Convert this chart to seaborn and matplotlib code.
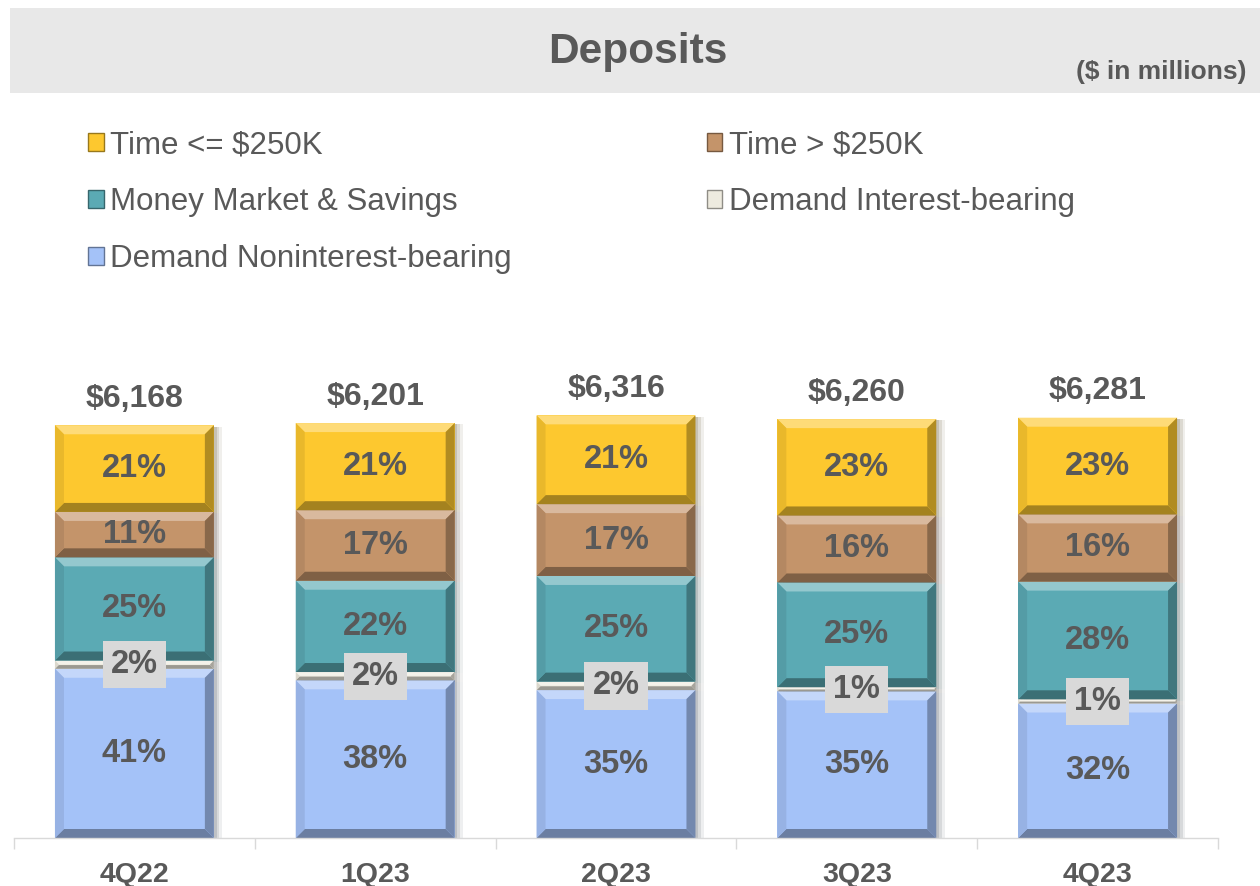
import numpy as np
import pandas as pd
import seaborn as sns
import matplotlib.pyplot as plt
import matplotlib.colors as mcolors
import matplotlib.patheffects as pe
from matplotlib.patches import Patch, Polygon, Rectangle

quarters = ["4Q22", "1Q23", "2Q23", "3Q23", "4Q23"]
totals = [6168, 6201, 6316, 6260, 6281]
total_labels = ["$6,168", "$6,201", "$6,316", "$6,260", "$6,281"]

# percent of total deposits, bottom -> top
demand_nonint = [41, 38, 35, 35, 32]
demand_int = [2, 2, 2, 1, 1]
mm_savings = [25, 22, 25, 25, 28]
time_over = [11, 17, 17, 16, 16]
time_under = [21, 21, 21, 23, 23]

series_names = ["Demand Noninterest-bearing", "Demand Interest-bearing",
                "Money Market & Savings", "Time > $250K", "Time <= $250K"]
series_pct = [demand_nonint, demand_int, mm_savings, time_over, time_under]
colors = ["#A4C2F8", "#EEEBDF", "#5BAAB4", "#C4946A", "#FDC82F"]
TXT = "#595959"


def blend(c, target, t):
    c = np.array(mcolors.to_rgb(c))
    return tuple(c + (np.array(target) - c) * t)


sns.set_theme(style="white")
plt.rcParams["font.family"] = ["Liberation Sans", "DejaVu Sans"]

df = pd.DataFrame({"quarter": quarters, "total": totals})

fig = plt.figure(figsize=(12.6, 8.86), dpi=100)
ax = fig.add_axes([14 / 1260, 1 - 838 / 886, 1204 / 1260, (838 - 300) / 886])

bottom = np.zeros(len(quarters))
for name, pct, col in zip(series_names, series_pct, colors):
    vals = np.array(totals) * np.array(pct) / 100.0
    df[name] = vals
    sns.barplot(data=df, x="quarter", y=name, color=col, saturation=1,
                bottom=bottom, width=0.66, errorbar=None, linewidth=0,
                edgecolor="none", ax=ax)
    bottom = bottom + vals

ax.set_xlim(-0.5, 4.5)
ax.set_ylim(0, 8040)

# bevel + shadow on every segment
p0 = ax.transData.transform((0, 0))
p1 = ax.transData.transform((1, 1))
sx, sy = p1[0] - p0[0], p1[1] - p0[1]
for i, cont in enumerate(ax.containers):
    col = colors[i]
    for patch in cont.patches:
        patch.set_path_effects([
            pe.SimplePatchShadow(offset=(6, -1), alpha=0.08),
            pe.SimplePatchShadow(offset=(4, -1), alpha=0.12),
            pe.SimplePatchShadow(offset=(2, -1), alpha=0.15),
            pe.Normal()])
        x, y = patch.get_x(), patch.get_y()
        w, h = patch.get_width(), patch.get_height()
        b = min(9.0, h * sy * 0.45)
        bx, by = b / sx, b / sy
        polys = [
            ([(x, y + h), (x + w, y + h), (x + w - bx, y + h - by), (x + bx, y + h - by)],
             blend(col, (1, 1, 1), 0.35)),
            ([(x, y), (x + w, y), (x + w - bx, y + by), (x + bx, y + by)],
             blend(col, (0, 0, 0), 0.35)),
            ([(x, y), (x + bx, y + by), (x + bx, y + h - by), (x, y + h)],
             blend(col, (0, 0, 0), 0.08)),
            ([(x + w, y), (x + w - bx, y + by), (x + w - bx, y + h - by), (x + w, y + h)],
             blend(col, (0, 0, 0), 0.3)),
        ]
        for pts, fc in polys:
            ax.add_patch(Polygon(pts, closed=True, fc=fc, ec="none", zorder=1.5))

# segment labels
for i, cont in enumerate(ax.containers):
    for j, patch in enumerate(cont.patches):
        cx = patch.get_x() + patch.get_width() / 2
        cy = patch.get_y() + patch.get_height() / 2
        kw = {}
        if i == 1:
            kw["bbox"] = dict(boxstyle="square,pad=0.25", fc="#D9D9D9", ec="none")
        ax.text(cx, cy, f"{series_pct[i][j]}%", ha="center", va="center",
                fontsize=23.5, fontweight="bold", color=TXT, zorder=4, **kw)

# totals
for j, lab in enumerate(total_labels):
    ax.annotate(lab, (j, totals[j]), xytext=(0, 19), textcoords="offset points",
                ha="center", va="center", fontsize=23, fontweight="bold", color=TXT)

ax.set_xticks(range(len(quarters)))
ax.set_xticklabels(quarters, fontsize=20.5, fontweight="bold", color=TXT)
ax.set_xticks(np.arange(-0.5, len(quarters), 1), minor=True)
ax.tick_params(axis="x", which="major", length=0, pad=17)
ax.tick_params(axis="x", which="minor", bottom=True, length=8, width=1,
               color="#D9D9D9", direction="out")
ax.set_yticks([])
ax.set_xlabel("")
ax.set_ylabel("")
for s in ["left", "top", "right"]:
    ax.spines[s].set_visible(False)
ax.spines["bottom"].set_color("#D9D9D9")
ax.spines["bottom"].set_linewidth(1)

# title band
fig.add_artist(Rectangle((10 / 1260, 1 - 93 / 886), 1 - 10 / 1260, 85 / 886,
                         transform=fig.transFigure, fc="#E8E8E8", ec="none", zorder=0))
fig.text(638 / 1260, 1 - 52 / 886, "Deposits", ha="center", va="center",
         fontsize=30.5, fontweight="bold", color=TXT)
fig.text(1246 / 1260, 1 - 72 / 886, "($ in millions)", ha="right", va="center",
         fontsize=19, fontweight="bold", color=TXT)

# legend
order = [4, 2, 0, 3, 1]
handles = [Patch(fc=colors[k], ec=blend(colors[k], (0, 0, 0), 0.4), lw=1) for k in order]
labels = [series_names[k] for k in order]
fig.legend(handles, labels, ncol=2, loc="upper left",
           bbox_to_anchor=(88 / 1260, 1 - 130 / 886), frameon=False,
           fontsize=22.5, borderpad=0, borderaxespad=0, labelspacing=0.86,
           columnspacing=6.25, handlelength=0.5, handleheight=0.5,
           handletextpad=0.2, labelcolor=TXT)

fig.savefig("out.png", dpi=100)
